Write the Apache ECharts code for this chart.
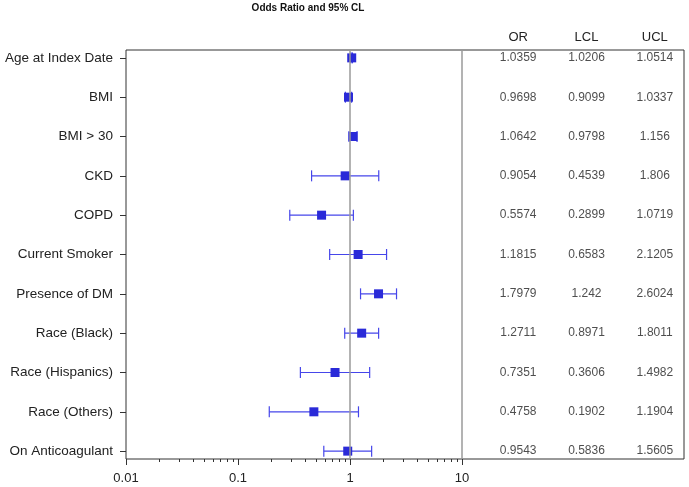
<!DOCTYPE html>
<html>
<head>
<meta charset="utf-8">
<script src="https://cdn.jsdelivr.net/npm/echarts@6/dist/echarts.min.js"></script>
<style>html,body{margin:0;padding:0;background:#fff;}#c{width:689px;height:487px;}</style>
</head>
<body>
<div id="c"></div>
<script>
const labels = ['Age at Index Date','BMI','BMI > 30','CKD','COPD','Current Smoker','Presence of DM','Race (Black)','Race (Hispanics)','Race (Others)','On Anticoagulant'];
const orVals  = [1.0359, 0.9698, 1.0642, 0.9054, 0.5574, 1.1815, 1.7979, 1.2711, 0.7351, 0.4758, 0.9543];
const lclVals = [1.0206, 0.9099, 0.9798, 0.4539, 0.2899, 0.6583, 1.242, 0.8971, 0.3606, 0.1902, 0.5836];
const uclVals = [1.0514, 1.0337, 1.156, 1.806, 1.0719, 2.1205, 2.6024, 1.8011, 1.4982, 1.1904, 1.5605];
const tableCols = ['OR','LCL','UCL'];
const majorTicks = [0.01, 0.1, 1, 10];
const minorTicks = [0.02,0.03,0.04,0.05,0.06,0.07,0.08,0.09,0.2,0.3,0.4,0.5,0.6,0.7,0.8,0.9,2,3,4,5,6,7,8,9];
const refLines = [1, 10];

const FONT = 'Liberation Sans, Arial, sans-serif';
const rowIdx = labels.map((_, i) => i);
const chart = echarts.init(document.getElementById('c'), null, {renderer:'canvas'});

const tableData = [];
const cols = [orVals, lclVals, uclVals];
rowIdx.forEach(i => {
  cols.forEach((arr, c) => tableData.push([tableCols[c], i, String(arr[i])]));
});

const yBase = {type:'value', inverse:true, min:-0.2, max:10.2, splitLine:{show:false}};

chart.setOption({
  animation:false,
  title:{text:'Odds Ratio and 95% CL', left:308, textAlign:'center', top:3, padding:0,
    textStyle:{fontSize:10, fontWeight:'bold', color:'#111', fontFamily:FONT}},
  grid:[
    {left:126, top:50, width:336, height:409, show:false},
    {left:484, top:50, width:207, height:409, show:false},
    {left:126, top:50, width:558, height:409, show:true, borderColor:'#333', borderWidth:1, backgroundColor:'transparent'}
  ],
  xAxis:[
    {gridIndex:0, type:'log', logBase:10, min:0.01, max:10, position:'bottom',
     axisLine:{show:false, onZero:false}, splitLine:{show:false},
     axisTick:{show:true, inside:false, length:6, lineStyle:{color:'#333'}, customValues:majorTicks},
     axisLabel:{customValues:majorTicks, fontSize:13, color:'#222', margin:13, fontFamily:FONT,
       formatter:v => String(v)}},
    {gridIndex:0, type:'log', logBase:10, min:0.01, max:10, position:'bottom',
     axisLine:{show:false, onZero:false}, splitLine:{show:false}, axisLabel:{show:false},
     axisTick:{show:true, inside:false, length:3, lineStyle:{color:'#333'}, customValues:minorTicks}},
    {gridIndex:1, type:'category', data:tableCols, position:'top',
     axisLine:{show:false, onZero:false}, axisTick:{show:false}, splitLine:{show:false},
     axisLabel:{fontSize:13, color:'#222', margin:6, fontFamily:FONT}},
    {gridIndex:2, type:'value', show:false, axisLine:{onZero:false}}
  ],
  yAxis:[
    Object.assign({}, yBase, {gridIndex:0, axisLine:{show:false, onZero:false},
      axisTick:{show:true, length:6, lineStyle:{color:'#333'}, customValues:rowIdx},
      axisLabel:{customValues:rowIdx, fontSize:13.5, color:'#222', margin:13, fontFamily:FONT,
        formatter:v => labels[Math.round(v)]}}),
    Object.assign({}, yBase, {gridIndex:1, show:false, axisLine:{onZero:false}}),
    {gridIndex:2, type:'value', show:false, axisLine:{onZero:false}}
  ],
  series:[
    {type:'custom', xAxisIndex:0, yAxisIndex:0, z:3,
     encode:{x:[0,2], y:1},
     data: rowIdx.map(i => [lclVals[i], i, uclVals[i]]),
     renderItem:(params, api) => {
       const y = api.value(1);
       const p1 = api.coord([api.value(0), y]);
       const p2 = api.coord([api.value(2), y]);
       const h = 5.5, st = {stroke:'#4646ea', lineWidth:1.2};
       return {type:'group', children:[
         {type:'line', shape:{x1:p1[0], y1:p1[1], x2:p2[0], y2:p2[1]}, style:st},
         {type:'line', shape:{x1:p1[0], y1:p1[1]-h, x2:p1[0], y2:p1[1]+h}, style:st},
         {type:'line', shape:{x1:p2[0], y1:p2[1]-h, x2:p2[0], y2:p2[1]+h}, style:st}
       ]};
     }},
    {type:'scatter', xAxisIndex:0, yAxisIndex:0, z:4, symbol:'rect', symbolSize:9,
     itemStyle:{color:'#2a2ad8', opacity:1},
     data: rowIdx.map(i => [orVals[i], i]),
     markLine:{silent:true, symbol:'none', label:{show:false},
       lineStyle:{color:'#9a9a9a', width:1.5, type:'solid'},
       data: refLines.map(v => ({xAxis:v}))}},
    {type:'scatter', xAxisIndex:2, yAxisIndex:1, symbolSize:0,
     data: tableData,
     label:{show:true, position:'inside', formatter:p => p.value[2], fontSize:12, color:'#222', fontFamily:FONT}}
  ]
});
</script>
</body>
</html>
